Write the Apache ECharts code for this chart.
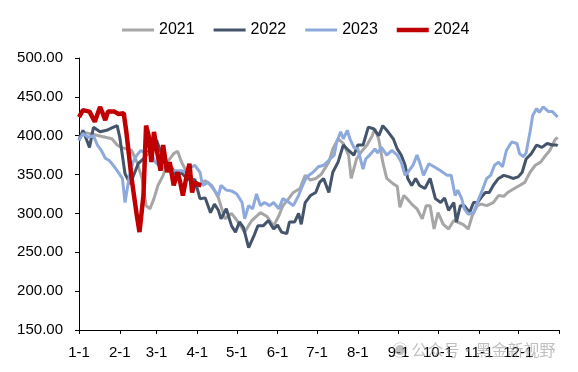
<!DOCTYPE html>
<html>
<head>
<meta charset="utf-8">
<script src="https://cdn.jsdelivr.net/npm/echarts@6/dist/echarts.min.js"></script>
<style>
html,body{margin:0;padding:0;background:#fff;}
#chart{width:578px;height:372px;}
</style>
</head>
<body>
<div id="chart"></div>
<script>
// Month tick labels and their day-of-year positions
var monthLabels = ['1-1','2-1','3-1','4-1','5-1','6-1','7-1','8-1','9-1','10-1','11-1','12-1'];
var monthStarts = [0,31,59,90,120,151,181,212,243,273,304,334,365];
var seriesNames = ['2021','2022','2023','2024'];

// 2021
var days2021 = [0,5,10,15,20,25,29,32,36,40,44,48,51,54,57,60,64,68,72,75,78,82,87,91,96,101,106,111,116,121,126,131,138,143,148,152,155,159,163,168,172,176,180,184,190,193,197,201,205,207,211,215,219,223,225,228,231,234,239,242,244,247,250,253,257,261,264,267,270,273,277,281,285,289,292,296,299,303,306,310,315,319,323,326,331,335,339,343,347,351,355,358,362,364];
var vals2021 = [398,404,402,400,398,396,388,385,383,381,366,345,310,306,319,336,349,368,377,380,366,353,342,338,342,336,320,293,300,289,276,290,301,296,284,297,310,318,327,332,349,343,345,350,366,383,396,390,375,345,370,380,388,400,409,395,366,345,338,335,308,323,318,312,306,293,310,310,280,301,286,280,291,288,286,280,297,310,312,310,314,323,322,327,332,336,340,353,362,366,375,381,395,398];

// 2022
var days2022 = [0,3,8,11,16,21,25,29,31,35,39,42,45,50,55,59,62,66,70,74,78,82,86,88,92,96,100,103,106,108,112,116,119,122,125,129,133,136,140,144,148,151,154,158,160,164,167,169,172,176,180,183,186,190,193,197,201,205,209,212,216,220,224,228,231,235,239,242,245,248,250,253,256,259,263,267,271,275,278,281,285,287,290,293,297,300,303,306,309,312,315,319,323,327,330,334,337,340,344,348,352,356,360,363,364];
var vals2022 = [394,407,385,411,405,407,410,413,398,351,338,351,364,372,385,394,380,366,360,350,352,345,342,344,319,320,301,312,304,293,306,284,276,289,282,256,271,284,284,291,280,285,276,274,289,289,300,286,314,323,327,340,345,327,353,366,388,381,375,388,388,411,409,400,413,405,396,383,375,362,345,336,345,336,332,345,319,314,320,304,314,289,310,310,301,314,314,321,327,327,336,345,349,347,345,347,353,370,377,388,385,390,388,388,387];

// 2023
var days2023 = [0,3,7,11,14,17,20,23,26,29,33,35,38,41,44,47,51,55,58,62,66,70,74,78,82,85,88,92,94,98,102,106,108,112,116,120,124,126,129,132,135,138,141,145,148,152,155,159,163,167,169,173,178,182,186,191,194,196,199,201,204,206,209,212,216,218,221,225,227,230,234,238,242,245,248,251,254,257,259,262,266,270,275,280,283,286,288,291,293,296,300,304,306,310,313,316,319,322,325,329,333,335,338,340,343,345,348,350,353,357,360,364];
var vals2023 = [394,403,398,400,388,381,371,368,362,355,345,314,345,366,375,381,377,377,366,360,358,355,355,355,353,359,362,353,336,340,332,323,336,330,329,325,314,293,310,306,325,310,314,310,314,306,319,315,310,323,332,347,353,360,362,370,375,392,405,396,407,396,385,383,357,370,375,383,378,385,375,381,375,366,349,355,362,375,366,349,364,360,355,349,349,323,330,319,306,299,301,319,327,345,349,362,366,360,381,392,390,377,373,378,405,426,435,430,437,431,431,424];

// 2024
var days2024 = [0,3,8,12,16,18,20,22,27,30,34,36,40,44,46,49,51,53,55,57,59,62,64,67,69,72,75,77,79,82,84,86,88,91,93];
var vals2024 = [424,433,431,418,437,429,420,431,431,428,429,405,345,297,276,323,413,400,366,405,383,355,388,353,366,336,353,340,323,350,364,327,340,337,336];

var allDays = [days2021, days2022, days2023, days2024];
var allVals = [vals2021, vals2022, vals2023, vals2024];
var colors = ['#A6A6A6','#44546A','#8EA9DB','#C00000'];
var widths = [3,3,3,4.5];
var legendIcons = ['path://M0 0H32V3H0Z','path://M0 0H32V3H0Z','path://M0 0H32V3H0Z','path://M0 0H32V4.5H0Z'];

function pairs(d, v){ return d.map(function(x,i){ return [x, v[i]]; }); }

var series = seriesNames.map(function(name, k){
  return {
    name: name,
    type: 'line',
    data: pairs(allDays[k], allVals[k]),
    symbol: 'none',
    showSymbol: false,
    smooth: false,
    lineStyle: { color: colors[k], width: widths[k] },
    itemStyle: { color: colors[k] },
    emphasis: { disabled: true },
    z: 2 + k
  };
});

var chart = echarts.init(document.getElementById('chart'), null, {renderer:'canvas'});
chart.setOption({
  animation: false,
  backgroundColor: '#fff',
  textStyle: { fontFamily: 'Liberation Sans, Arial, sans-serif' },
  legend: {
    data: seriesNames.map(function(n, k){ return { name: n, icon: legendIcons[k], itemStyle: { color: colors[k] } }; }),
    left: 117,
    top: 17,
    itemWidth: 32,
    itemHeight: 14,
    itemGap: 19,
    textStyle: { fontSize: 16, color: '#000', fontFamily: 'Liberation Sans, Arial, sans-serif' }
  },
  grid: { left: 79, right: 19, top: 58, bottom: 42, containLabel: false },
  xAxis: {
    type: 'value',
    min: 0,
    max: 365,
    splitLine: { show: false },
    axisLine: { show: true, lineStyle: { color: '#000', width: 1 } },
    axisTick: { show: true, inside: false, length: 4, customValues: monthStarts, lineStyle: { color: '#000' } },
    axisLabel: {
      customValues: monthStarts.slice(0, 12),
      formatter: function(v){ var i = monthStarts.indexOf(v); return i >= 0 && i < 12 ? monthLabels[i] : ''; },
      fontSize: 15, color: '#000', margin: 15,
      fontFamily: 'Liberation Sans, Arial, sans-serif'
    }
  },
  yAxis: {
    type: 'value',
    min: 150,
    max: 500,
    interval: 50,
    splitLine: { show: false },
    axisLine: { show: true, lineStyle: { color: '#000', width: 1 } },
    axisTick: { show: true, inside: false, length: 4, lineStyle: { color: '#000' } },
    axisLabel: {
      formatter: function(v){ return v.toFixed(2); },
      fontSize: 15, color: '#000', margin: 16,
      fontFamily: 'Liberation Sans, Arial, sans-serif'
    }
  },
  graphic: [{
    type: 'text',
    left: 392,
    top: 342,
    z: 100,
    style: { text: '◉ 公众号·黑金新视野', fontSize: 16, fill: 'rgba(140,140,140,0.55)', fontFamily: 'Noto Sans CJK SC' }
  }],
  series: series
});
</script>
</body>
</html>
